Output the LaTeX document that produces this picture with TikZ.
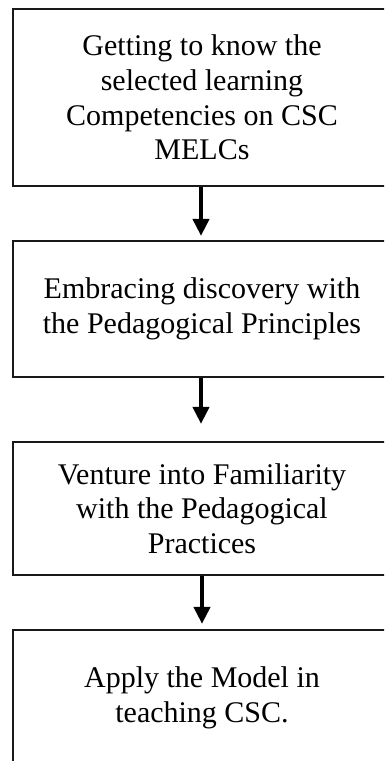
\documentclass[tikz,border=0pt]{standalone}
\usepackage{fontspec}
\setmainfont{Liberation Serif}
\usetikzlibrary{arrows.meta}
\begin{document}
\begin{tikzpicture}[x=1pt,y=-1pt,
  stepbox/.style={draw=black!90, line width=2.2pt, fill=white, inner sep=0pt,
    minimum width=378pt, align=center,
    font=\fontsize{30pt}{34.7pt}\selectfont},
  flowarrow/.style={draw=black, line width=4pt,
    -{Triangle[width=16pt,length=17pt]}}]
\useasboundingbox (0,0) rectangle (384,761);
\clip (0,0) rectangle (384,761);
\fill[white] (0,0) rectangle (384,761);
\node[stepbox, minimum height=177pt] (b1) at (202,97.5)
  {Getting to know the\\selected learning\\Competencies on CSC\\MELCs};
\node[stepbox, minimum height=136pt] (b2) at (202,309)
  {Embracing discovery with\\the Pedagogical Principles};
\node[stepbox, minimum height=133pt] (b3) at (202,508.5)
  {Venture into Familiarity\\with the Pedagogical\\Practices};
\node[stepbox, minimum height=136pt] (b4) at (202,698)
  {Apply the Model in\\teaching CSC.};
\draw[flowarrow, shorten >=4pt] ([xshift=-1pt]b1.south) -- ([xshift=-1pt]b2.north);
\draw[flowarrow, shorten >=17pt] ([xshift=-1pt]b2.south) -- ([xshift=-1pt]b3.north);
\draw[flowarrow, shorten >=5pt] ([xshift=0pt]b3.south) -- ([xshift=0pt]b4.north);
\end{tikzpicture}
\end{document}
